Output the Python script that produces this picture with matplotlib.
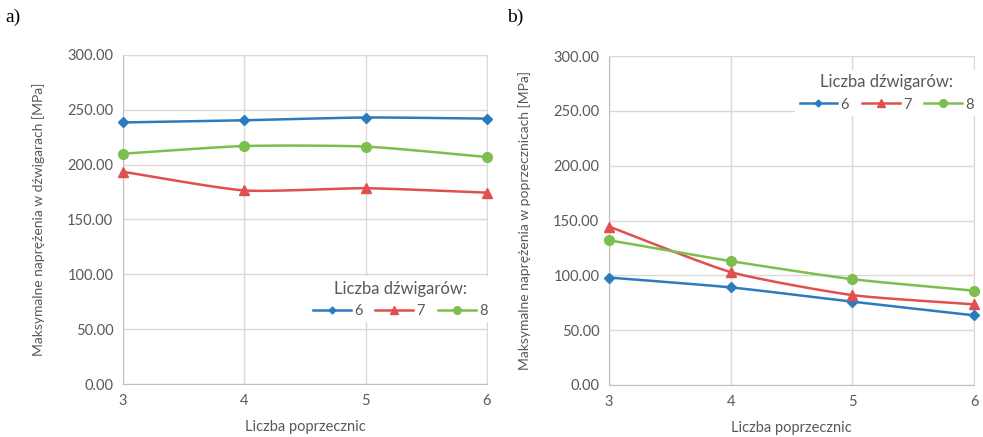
"""
Maksymalne naprezenia w dzwigarach i poprzecznicach vs liczba poprzecznic.
"""

import numpy as np
import matplotlib.pyplot as plt

# -------------------------------------------------
# DATA
# -------------------------------------------------
poprzecznice = [3, 4, 5, 6]
series_labels = ["6", "7", "8"]

# a) stresses in girders [MPa]
girders_6 = [238.5, 240.5, 243.0, 242.0]
girders_7 = [193.5, 176.5, 178.5, 174.5]
girders_8 = [210.0, 217.0, 216.5, 207.0]

# b) stresses in cross-beams [MPa]
cross_6 = [98.0, 89.0, 76.0, 63.5]
cross_7 = [144.5, 103.0, 82.0, 73.5]
cross_8 = [132.0, 113.0, 96.5, 86.0]

COLORS = ["#2b7bc1", "#e0504f", "#7cbf4f"]
MARKERS = ["D", "^", "o"]
MSIZES = [5, 7, 7]
TEXT_GRAY = "#595959"
GRID_GRAY = "#d9d9d9"
FONT = "Lato"


def smooth(x, y, n=40):
    """Catmull-Rom style curve through the points (like Excel smoothed lines)."""
    x = np.asarray(x, float)
    y = np.asarray(y, float)
    px = np.concatenate([[2 * x[0] - x[1]], x, [2 * x[-1] - x[-2]]])
    py = np.concatenate([[2 * y[0] - y[1]], y, [2 * y[-1] - y[-2]]])
    xs, ys = [], []
    t = np.linspace(0, 1, n)
    for i in range(1, len(px) - 2):
        for arr, out in ((px, xs), (py, ys)):
            p0, p1, p2, p3 = arr[i - 1], arr[i], arr[i + 1], arr[i + 2]
            m1 = (p2 - p0) / 2 * 0.6
            m2 = (p3 - p1) / 2 * 0.6
            h00 = 2 * t**3 - 3 * t**2 + 1
            h10 = t**3 - 2 * t**2 + t
            h01 = -2 * t**3 + 3 * t**2
            h11 = t**3 - t**2
            out.extend(h00 * p1 + h10 * m1 + h01 * p2 + h11 * m2)
    return np.array(xs), np.array(ys)


def draw_panel(ax, data, ylabel, legend_loc):
    for vals, lab, col, mk, ms in zip(data, series_labels, COLORS, MARKERS, MSIZES):
        sx, sy = smooth(poprzecznice, vals)
        ax.plot(sx, sy, color=col, lw=1.8, zorder=3)
        ax.plot(poprzecznice, vals, ls="none", marker=mk, ms=ms,
                color=col, zorder=4, clip_on=False)
        # legend proxy
        ax.plot([], [], color=col, lw=1.8, marker=mk, ms=ms - 1.5, label=lab)

    ax.set_xlim(3, 6)
    ax.set_ylim(0, 300)
    ax.set_xticks(poprzecznice)
    ax.set_yticks(np.arange(0, 301, 50))
    ax.set_yticklabels([f"{v:.2f}" for v in np.arange(0, 301, 50)])
    ax.grid(True, color=GRID_GRAY, lw=1)
    ax.set_axisbelow(True)
    for sp in ax.spines.values():
        sp.set_color(GRID_GRAY)
    ax.spines["left"].set_color("#bfbfbf")
    ax.spines["bottom"].set_color("#bfbfbf")
    ax.tick_params(length=0, labelsize=10.5, labelcolor=TEXT_GRAY, pad=7)
    for lbl in ax.get_xticklabels() + ax.get_yticklabels():
        lbl.set_fontfamily(FONT)
    ax.set_xlabel("Liczba poprzecznic", fontsize=10.5, color=TEXT_GRAY,
                  family=FONT, labelpad=9)
    ax.set_ylabel(ylabel, fontsize=10, color=TEXT_GRAY, family=FONT, labelpad=16)

    leg = ax.legend(loc="upper left", bbox_to_anchor=legend_loc, ncol=3,
                    title="Liczba dźwigarów:", frameon=True, facecolor="white",
                    edgecolor="none", framealpha=1, handlelength=2.6,
                    handletextpad=0.2, columnspacing=0.9, borderpad=0.3,
                    prop={"family": FONT, "size": 10.5})
    leg.get_title().set_fontfamily(FONT)
    leg.get_title().set_fontsize(12)
    leg.get_title().set_color(TEXT_GRAY)
    for txt in leg.get_texts():
        txt.set_color(TEXT_GRAY)
    leg.set_zorder(5)


fig = plt.figure(figsize=(9.83, 4.37), dpi=100)

ax_a = fig.add_axes([123 / 983, 1 - 384 / 437, 364 / 983, 329 / 437])
ax_b = fig.add_axes([609 / 983, 1 - 385 / 437, 365 / 983, 329 / 437])

draw_panel(ax_a, [girders_6, girders_7, girders_8],
           "Maksymalne naprężenia w dźwigarach [MPa]", (0.49, 0.35))
draw_panel(ax_b, [cross_6, cross_7, cross_8],
           "Maksymalne naprężenia w poprzecznicach [MPa]", (0.49, 0.98))

fig.text(5 / 983, 1 - 17 / 437, "a)", family="Liberation Serif", fontsize=14,
         va="center", ha="left")
fig.text(507 / 983, 1 - 17 / 437, "b)", family="Liberation Serif", fontsize=14,
         va="center", ha="left")

fig.savefig("out.png", dpi=100)
